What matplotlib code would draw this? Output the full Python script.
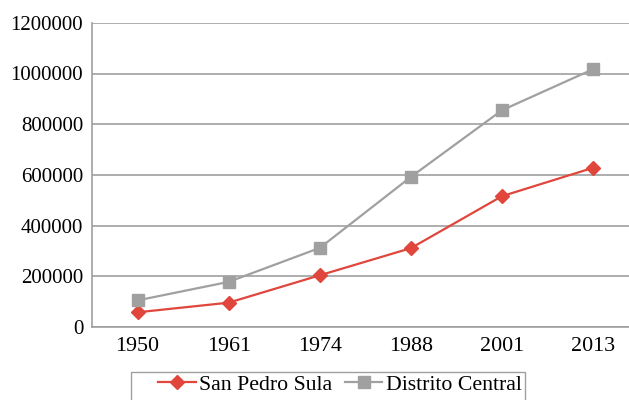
import matplotlib.pyplot as plt
from matplotlib.patches import Rectangle

years = ['1950', '1961', '1974', '1988', '2001', '2013']
san_pedro_sula = [58000, 96000, 204000, 311000, 516000, 628000]
distrito_central = [105000, 178000, 312000, 592000, 855000, 1017000]

plt.rcParams['font.family'] = ['Liberation Serif', 'DejaVu Serif']

fig = plt.figure(figsize=(6.29, 4.0), dpi=100)
ax = fig.add_axes([0.1463, 0.1825, 0.869, 0.7605])

x = range(len(years))
ax.plot(x, san_pedro_sula, color='#e0463c', linewidth=1.6, marker='D',
        markersize=7.5, label='San Pedro Sula')
ax.plot(x, distrito_central, color='#a0a0a0', linewidth=1.6, marker='s',
        markersize=8.5, label='Distrito Central')

ax.set_xlim(-0.5, 5.5)
ax.set_ylim(0, 1200000)
ax.set_yticks(range(0, 1200001, 200000))
ax.set_yticklabels([str(v) for v in range(0, 1200001, 200000)])
ax.set_xticks(list(x))
ax.set_xticklabels(years)
ax.tick_params(length=0, colors='black')
ax.tick_params(axis='y', pad=6.3, labelsize=15)
ax.tick_params(axis='x', pad=7.5, labelsize=15.8)

ax.grid(axis='y', color='#a0a0a0', linewidth=1.2)
ax.set_axisbelow(True)
for side in ['top', 'right']:
    ax.spines[side].set_visible(False)
for side in ['left', 'bottom']:
    ax.spines[side].set_color('#a0a0a0')
    ax.spines[side].set_linewidth(1.2)

# legend without its own frame; the box is drawn separately (wider on the left)
leg = fig.legend(loc='upper left', bbox_to_anchor=(0.2512, 0.064), ncol=2,
                 fontsize=15.7, frameon=False, handlelength=1.72,
                 columnspacing=0.6, handletextpad=0.15, borderpad=0,
                 borderaxespad=0)
fig.patches.append(Rectangle((131 / 629, -0.05), (525 - 131) / 629, 0.05 + 28.3 / 400,
                             transform=fig.transFigure, fill=False,
                             edgecolor='#a0a0a0', linewidth=1.0))

fig.savefig('out.png', dpi=100)
